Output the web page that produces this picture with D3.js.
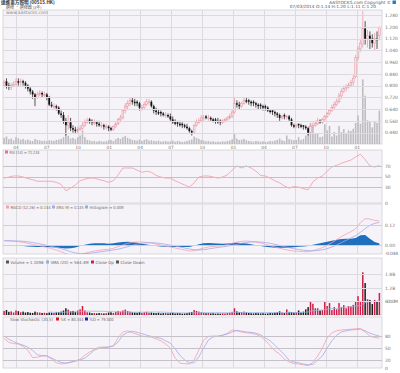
<!DOCTYPE html>
<html lang="zh-Hant">
<head>
<meta charset="UTF-8">
<title>達進東方照明 (00515.HK)</title>
<script src="https://cdn.jsdelivr.net/npm/d3@7"></script>
<style>
    body{ margin:0; background:#fff; }
    text{ font-family:"DejaVu Sans",Verdana,sans-serif; }
    .cjk{ font-family:"Noto Sans CJK TC",sans-serif; }
</style>
</head>
<body>
<svg id="chart" width="400" height="373"></svg>
<script>
// weekly bars, first week ending 25 Feb 2011
var startDate = new Date(2011, 1, 25);

var opens = [
0.80,0.83,0.80,0.79,0.80,0.81,0.83,0.82,0.83,0.82,
0.80,0.78,0.76,0.74,0.72,0.74,0.75,0.74,0.74,0.72,
0.67,0.66,0.66,0.65,0.61,0.60,0.56,0.53,0.55,0.51,
0.50,0.49,0.50,0.51,0.53,0.55,0.57,0.56,0.55,0.55,
0.54,0.53,0.53,0.52,0.52,0.51,0.50,0.52,0.54,0.57,
0.58,0.63,0.66,0.68,0.70,0.69,0.69,0.68,0.65,0.65,
0.67,0.69,0.69,0.66,0.63,0.62,0.62,0.61,0.60,0.60,
0.59,0.57,0.55,0.55,0.54,0.54,0.53,0.52,0.51,0.49,
0.48,0.53,0.55,0.56,0.58,0.59,0.58,0.58,0.57,0.57,
0.56,0.56,0.55,0.56,0.57,0.58,0.59,0.62,0.68,0.67,
0.66,0.68,0.70,0.70,0.69,0.69,0.68,0.67,0.67,0.66,
0.66,0.65,0.63,0.63,0.62,0.61,0.60,0.58,0.60,0.59,
0.59,0.57,0.53,0.52,0.54,0.53,0.53,0.52,0.51,0.48,
0.52,0.53,0.54,0.56,0.55,0.57,0.59,0.61,0.63,0.65,
0.67,0.69,0.73,0.76,0.78,0.79,0.80,0.82,0.86,0.99,
1.05,1.08,1.19,1.12,1.14,1.12,1.09,1.12,1.14
];
var highs = [
0.84,0.85,0.82,0.82,0.83,0.85,0.85,0.85,0.84,0.83,
0.81,0.79,0.77,0.75,0.76,0.77,0.76,0.76,0.75,0.73,
0.69,0.68,0.67,0.66,0.63,0.62,0.58,0.60,0.58,0.53,
0.52,0.52,0.53,0.55,0.57,0.58,0.58,0.57,0.57,0.56,
0.56,0.55,0.54,0.54,0.53,0.52,0.53,0.55,0.58,0.60,
0.64,0.68,0.70,0.72,0.72,0.71,0.70,0.69,0.67,0.69,
0.71,0.71,0.70,0.67,0.65,0.64,0.63,0.62,0.62,0.61,
0.61,0.59,0.57,0.56,0.56,0.55,0.54,0.54,0.52,0.50,
0.54,0.57,0.58,0.60,0.60,0.60,0.60,0.59,0.58,0.58,
0.58,0.57,0.57,0.58,0.59,0.61,0.64,0.72,0.70,0.69,
0.69,0.72,0.72,0.71,0.70,0.70,0.69,0.68,0.68,0.67,
0.67,0.66,0.64,0.64,0.63,0.62,0.61,0.60,0.61,0.60,
0.60,0.58,0.54,0.54,0.54,0.54,0.53,0.53,0.52,0.53,
0.55,0.56,0.58,0.57,0.58,0.60,0.62,0.64,0.67,0.69,
0.71,0.75,0.78,0.80,0.81,0.82,0.84,0.87,1.01,1.07,
1.12,1.31,1.24,1.18,1.17,1.15,1.16,1.17,1.20
];
var lows = [
0.79,0.78,0.77,0.77,0.79,0.80,0.80,0.80,0.80,0.78,
0.76,0.74,0.71,0.66,0.71,0.73,0.72,0.72,0.70,0.66,
0.65,0.64,0.63,0.60,0.58,0.54,0.46,0.50,0.49,0.48,
0.47,0.47,0.49,0.50,0.52,0.54,0.54,0.53,0.53,0.52,
0.52,0.51,0.50,0.50,0.49,0.49,0.49,0.51,0.53,0.55,
0.57,0.61,0.64,0.66,0.67,0.66,0.66,0.63,0.63,0.64,
0.66,0.67,0.65,0.61,0.60,0.60,0.59,0.59,0.58,0.58,
0.56,0.54,0.53,0.52,0.52,0.51,0.51,0.50,0.48,0.46,
0.47,0.52,0.54,0.55,0.56,0.57,0.56,0.56,0.55,0.54,
0.54,0.53,0.54,0.55,0.56,0.57,0.58,0.61,0.65,0.64,
0.65,0.67,0.68,0.67,0.66,0.66,0.65,0.64,0.64,0.63,
0.63,0.62,0.61,0.60,0.59,0.58,0.56,0.57,0.57,0.57,
0.56,0.52,0.51,0.51,0.51,0.51,0.50,0.50,0.46,0.47,
0.51,0.52,0.53,0.54,0.54,0.56,0.58,0.60,0.62,0.64,
0.66,0.68,0.71,0.75,0.76,0.78,0.79,0.80,0.85,0.97,
1.03,1.06,1.08,1.06,1.05,1.06,1.04,1.05,1.11
];
var closes = [
0.82,0.80,0.79,0.80,0.81,0.83,0.82,0.83,0.82,0.80,
0.78,0.76,0.74,0.72,0.74,0.75,0.74,0.74,0.72,0.67,
0.66,0.66,0.65,0.61,0.60,0.56,0.53,0.55,0.51,0.50,
0.49,0.50,0.51,0.53,0.55,0.56,0.56,0.55,0.55,0.54,
0.53,0.53,0.52,0.52,0.51,0.50,0.52,0.54,0.57,0.58,
0.63,0.66,0.68,0.70,0.69,0.68,0.68,0.65,0.65,0.67,
0.69,0.69,0.66,0.63,0.62,0.61,0.61,0.60,0.60,0.59,
0.57,0.55,0.54,0.54,0.53,0.53,0.52,0.51,0.49,0.48,
0.53,0.55,0.56,0.58,0.58,0.58,0.58,0.57,0.56,0.56,
0.55,0.55,0.56,0.57,0.58,0.59,0.62,0.68,0.67,0.66,
0.68,0.70,0.69,0.69,0.68,0.68,0.67,0.66,0.66,0.65,
0.65,0.63,0.62,0.62,0.61,0.60,0.58,0.59,0.59,0.59,
0.57,0.53,0.52,0.53,0.53,0.52,0.52,0.51,0.48,0.52,
0.53,0.54,0.56,0.55,0.57,0.59,0.61,0.63,0.65,0.67,
0.69,0.73,0.76,0.78,0.79,0.80,0.82,0.85,0.99,1.05,
1.09,1.19,1.12,1.14,1.12,1.09,1.12,1.11,1.20
];
// volume in millions of shares
var volumes = [
180,220,140,160,110,200,170,120,150,110,
130,100,90,150,120,110,90,100,80,110,
100,90,120,130,150,200,300,240,160,180,
140,200,250,400,200,120,110,80,90,70,
90,80,70,80,110,120,90,140,180,150,
200,240,180,150,120,110,100,130,90,120,
140,100,110,90,80,100,70,80,90,70,
80,100,70,90,80,60,70,90,110,130,
220,180,150,120,100,80,90,70,80,60,
70,60,80,70,90,100,140,300,160,120,
130,150,110,90,80,70,90,80,70,80,
60,70,90,80,100,120,160,110,90,250,
140,130,110,120,200,120,150,250,350,620,
500,300,300,200,220,580,400,530,220,350,
250,530,350,440,300,400,380,450,620,840,
600,1900,1420,700,670,490,670,620,980
];

// indicators, one reading every second week
var rsi14 = [
47,49,51,51,49,46,44,41,41,41,41,39,35,23,28,34,42,45,47,47,
44,42,39,42,53,66,66,66,62,58,60,58,52,49,47,47,42,38,34,30,
38,49,51,51,49,47,49,53,62,70,66,70,66,60,52,51,47,42,38,32,
28,31,30,27,25,40,47,51,60,68,71,75,78,81,87,92,82,70,68,71
];
var macdLine = [
0.025,0.024,0.022,0.020,0.016,0.010,0.004,-0.002,-0.008,-0.014,
-0.022,-0.030,-0.040,-0.052,-0.060,-0.062,-0.058,-0.050,-0.042,-0.036,
-0.032,-0.028,-0.026,-0.020,-0.010,0.000,0.010,0.016,0.018,0.018,
0.016,0.012,0.006,0.000,-0.006,-0.012,-0.018,-0.024,-0.030,-0.036,
-0.034,-0.026,-0.018,-0.012,-0.008,-0.006,-0.004,0.002,0.010,0.018,
0.022,0.024,0.022,0.018,0.012,0.004,-0.004,-0.012,-0.020,-0.026,
-0.032,-0.036,-0.038,-0.040,-0.040,-0.034,-0.026,-0.016,-0.002,0.014,
0.032,0.050,0.066,0.080,0.098,0.134,0.158,0.156,0.148,0.144
];
var macdSignal = [
0.026,0.026,0.025,0.024,0.022,0.019,0.015,0.010,0.004,-0.002,
-0.008,-0.015,-0.022,-0.031,-0.040,-0.047,-0.052,-0.052,-0.050,-0.046,
-0.042,-0.038,-0.034,-0.030,-0.025,-0.018,-0.010,-0.002,0.005,0.010,
0.013,0.014,0.012,0.009,0.004,-0.001,-0.006,-0.012,-0.018,-0.024,
-0.029,-0.030,-0.028,-0.024,-0.019,-0.015,-0.011,-0.007,-0.002,0.004,
0.010,0.015,0.018,0.019,0.018,0.015,0.010,0.004,-0.003,-0.010,
-0.016,-0.022,-0.027,-0.031,-0.034,-0.035,-0.033,-0.029,-0.022,-0.012,
0.000,0.014,0.028,0.042,0.056,0.076,0.098,0.118,0.130,0.135
];
var macdHist = [
-0.001,-0.002,-0.003,-0.004,-0.006,-0.009,-0.011,-0.012,-0.012,-0.012,
-0.014,-0.015,-0.018,-0.021,-0.020,-0.015,-0.006,0.002,0.008,0.010,
0.010,0.010,0.008,0.010,0.015,0.018,0.020,0.018,0.013,0.008,
0.003,-0.002,-0.006,-0.009,-0.010,-0.011,-0.012,-0.012,-0.012,-0.012,
-0.005,0.004,0.010,0.012,0.011,0.009,0.007,0.009,0.012,0.014,
0.012,0.009,0.004,-0.001,-0.006,-0.011,-0.014,-0.016,-0.017,-0.016,
-0.016,-0.014,-0.011,-0.009,-0.006,0.001,0.007,0.013,0.020,0.026,
0.032,0.036,0.038,0.038,0.042,0.058,0.060,0.038,0.018,0.009
];
var stochK = [
74,64,61,60,54,44,26,27,30,31,22,13,10,12,15,18,22,32,40,47,
52,52,52,56,75,90,93,88,84,80,78,77,73,68,60,50,25,12,11,10,
20,45,70,79,80,80,82,87,95,93,90,88,87,84,79,69,56,43,35,22,
15,11,10,8,6,14,30,50,75,88,93,95,96,97,98,99,90,80,76,75
];
var stochD = [
80,72,66,61,57,52,44,33,31,30,25,19,14,12,14,17,20,25,34,45,
49,51,53,55,65,82,89,92,89,86,82,79,77,74,68,62,48,32,20,13,
13,28,50,70,78,79,82,85,90,94,92,90,89,87,83,75,68,57,45,34,
19,15,13,10,8,9,20,30,50,68,82,90,93,95,96,97,93,87,83,80
];

var priceTicks = [1.28,1.20,1.12,1.04,0.96,0.88,0.80,0.72,0.64,0.56,0.48];
var rsiTicks = [70,50,30];
var macdTicks = [0.12,0];
var volTicks = [1800,1200,600];
var volTickLabels = ['1.8B','1.2B','600.0M'];
var stochTicks = [80,50,20];

var svg = d3.select('#chart');
var L = 3, R = 382;
var weeks = closes.map(function(c,i){ return d3.timeWeek.offset(startDate, i); });
var x = d3.scaleTime().domain([weeks[0], weeks[weeks.length-1]]).range([4.1, 379.4]);
var quarters = x.ticks(d3.timeMonth.every(3));
var gridCol = '#dcdadf';

function panel(id, top, bottom){
    svg.append('rect').attr('x',L).attr('y',top).attr('width',R-L).attr('height',bottom-top)
        .attr('fill','#f5f3f7').attr('stroke','#cfcfd4').attr('stroke-width',0.8);
    svg.append('g').selectAll('line').data(quarters).enter().append('line')
        .attr('x1',function(d){return Math.round(x(d))+0.5;})
        .attr('x2',function(d){return Math.round(x(d))+0.5;})
        .attr('y1',top).attr('y2',bottom)
        .attr('stroke',gridCol).attr('stroke-width',1);
    svg.append('clipPath').attr('id',id).append('rect')
        .attr('x',L).attr('y',top).attr('width',R-L).attr('height',bottom-top);
    return svg.append('g').attr('clip-path','url(#'+id+')');
}

function hGrid(scale, ticks, labels, col){
    svg.append('g').selectAll('line').data(ticks).enter().append('line')
        .attr('x1',L).attr('x2',R)
        .attr('y1',function(d){return Math.round(scale(d))+0.5;})
        .attr('y2',function(d){return Math.round(scale(d))+0.5;})
        .attr('stroke',col || gridCol).attr('stroke-width',1);
    axisLabels(scale, ticks, labels);
}

function axisLabels(scale, ticks, labels){
    svg.append('g').selectAll('text').data(ticks).enter().append('text')
        .attr('x',R+3).attr('y',function(d){return scale(d)+1.7;})
        .attr('font-size',4.5).attr('fill','#777')
        .attr('textLength',function(d,i){
            var s = String(labels ? labels[i] : d);
            return s.length > 5 ? 13 : null;
        })
        .text(function(d,i){ return labels ? labels[i] : d; });
}

// w = room for the text before the next legend item
function legend(items, y){
    items.forEach(function(it){
        if(it.color){
            svg.append('rect').attr('x',it.x).attr('y',y-3).attr('width',3).attr('height',3).attr('fill',it.color);
        }
        var t = svg.append('text').attr('x',it.x+(it.color?4.5:0)).attr('y',y).attr('font-size',4.2)
            .attr('fill','#666').text(it.text);
        if(it.w && t.node().getComputedTextLength() > it.w){
            t.attr('textLength',it.w).attr('lengthAdjust','spacingAndGlyphs');
        }
    });
}

function seriesLine(g, scale, vals, color){
    var line = d3.line()
        .x(function(d,k){return x(weeks[k*2]);})
        .y(function(d){return scale(d);});
    g.append('path').datum(vals).attr('d',line).attr('fill','none')
        .attr('stroke',color).attr('stroke-width',0.8);
}

// ---------------- header ----------------
svg.append('text').attr('class','cjk').attr('x',1).attr('y',3.9).attr('font-size',4.6).attr('font-weight','bold')
    .attr('fill','#333').text('達進東方照明 (00515.HK)');
svg.append('text').attr('class','cjk').attr('x',6).attr('y',8.7).attr('font-size',4)
    .attr('fill','#555').text('週線 · 週線圖 (3年)');
svg.append('text').attr('x',391).attr('y',3.6).attr('text-anchor','end').attr('font-size',4.3)
    .attr('fill','#555').text('AASTOCKS.com Copyright ©');
svg.append('rect').attr('x',392.5).attr('y',0.5).attr('width',3.5).attr('height',3.5).attr('fill','#3a78b8');
svg.append('text').attr('x',376).attr('y',8.2).attr('text-anchor','end').attr('font-size',4.3)
    .attr('fill','#555').text('07/03/2014   O:1.14  H:1.20  L:1.11  C:1.20');

// ---------------- main price panel ----------------
var yP = d3.scaleLinear().domain([0.402, 1.316]).range([144, 10]);
var yV = d3.scaleLinear().domain([0, 1000]).range([0, 34]);
var gMain = panel('cMain', 10, 144);
hGrid(yP, priceTicks, priceTicks.map(d3.format('.3f')));
svg.append('text').attr('x',6).attr('y',14.2).attr('font-size',4.4).attr('fill','#888').text('www.aastocks.com');

gMain.selectAll('rect.vo').data(volumes).enter().append('rect')
    .attr('x',function(d,i){return x(weeks[i])-0.8;}).attr('width',1.6)
    .attr('y',function(d){return 144-yV(d);}).attr('height',function(d){return yV(d);})
    .attr('fill','#bdbcc0');

var upCol = '#e8919f';
gMain.selectAll('line.wick').data(closes).enter().append('line')
    .attr('x1',function(d,i){return x(weeks[i]);}).attr('x2',function(d,i){return x(weeks[i]);})
    .attr('y1',function(d,i){return yP(highs[i]);}).attr('y2',function(d,i){return yP(lows[i]);})
    .attr('stroke',function(d,i){return d>=opens[i]?upCol:'#111';}).attr('stroke-width',0.7);
gMain.selectAll('rect.body').data(closes).enter().append('rect')
    .attr('x',function(d,i){return x(weeks[i])-0.9;}).attr('width',1.8)
    .attr('y',function(d,i){return yP(Math.max(d,opens[i]));})
    .attr('height',function(d,i){return Math.max(0.8, Math.abs(yP(d)-yP(opens[i])));})
    .attr('fill',function(d,i){return d>=opens[i]?'#f8e4e8':'#111';})
    .attr('stroke',function(d,i){return d>=opens[i]?upCol:'none';}).attr('stroke-width',0.5);

svg.append('g').selectAll('text').data(quarters).enter().append('text')
    .attr('x',function(d){return x(d);}).attr('y',148.6).attr('text-anchor','middle')
    .attr('font-size',4.4).attr('fill','#777').text(d3.timeFormat('%m'));

// ---------------- RSI ----------------
var yR = d3.scaleLinear().domain([0,100]).range([203,150]);
var gRsi = panel('cRsi', 150, 203);
hGrid(yR, rsiTicks, null, '#c4c2c8');
axisLabels(yR, [0], null);
seriesLine(gRsi, yR, rsi14, '#f09aa4');
legend([{x:5, color:'#f07080', text:'RSI (14) = 71.234', w:30}], 153.5);

// ---------------- MACD ----------------
var yM = d3.scaleLinear().domain([-0.054, 0.246]).range([254, 204]);
var gMacd = panel('cMacd', 204, 254);
hGrid(yM, macdTicks, ['0.12','0.00'], '#d2d0d6');
axisLabels(yM, [-0.048], ['-0.048']);
var histArea = d3.area()
    .x(function(d,k){return x(weeks[k*2]);})
    .y0(yM(0)).y1(function(d){return yM(d);});
gMacd.append('path').datum(macdHist).attr('d',histArea).attr('fill','#1f6fbf');
seriesLine(gMacd, yM, macdLine, '#f4a2b2');
seriesLine(gMacd, yM, macdSignal, '#a6a6ea');
legend([
    {x:6, color:'#f4a2b2', text:'MACD (12,26) = 0.144', w:40},
    {x:52, color:'#a6a6ea', text:'EMA (9) = 0.135', w:27},
    {x:85, color:'#8fb0d8', text:'Histogram = 0.009', w:34}
], 208.5);

// ---------------- Volume ----------------
var yVol = d3.scaleLinear().domain([0, 2533]).range([315, 258]);
var gVol = panel('cVol', 258, 315);
hGrid(yVol, volTicks, volTickLabels);
gVol.selectAll('rect').data(volumes).enter().append('rect')
    .attr('x',function(d,i){return x(weeks[i])-0.75;}).attr('width',1.5)
    .attr('y',function(d){return yVol(d);}).attr('height',function(d){return 315-yVol(d);})
    .attr('fill',function(d,i){return closes[i]>=opens[i]?'#cf1d45':'#1b1b1b';});
var sma = volumes.map(function(v,i){ return i<19 ? null : d3.mean(volumes.slice(i-19,i+1)); });
gVol.append('path').datum(sma)
    .attr('d', d3.line().defined(function(d){return d!==null;})
        .x(function(d,i){return x(weeks[i]);}).y(function(d){return yVol(d);}))
    .attr('fill','none').attr('stroke','#9db6e2').attr('stroke-width',0.8);
legend([
    {x:6, color:'#555', text:'Volume = 1.109B', w:33},
    {x:46, color:'#8fb0e0', text:'SMA (20) = 564.4M', w:38},
    {x:91, color:'#cf1d45', text:'Close Up', w:19},
    {x:116, color:'#555', text:'Close Down', w:24}
], 263.5);

// ---------------- Slow stochastic ----------------
var yS = d3.scaleLinear().domain([0,100]).range([368,328]);
var gSto = panel('cSto', 317, 368);
hGrid(yS, stochTicks, null, '#c4c2c8');
axisLabels(yS, [0], null);
seriesLine(gSto, yS, stochK, '#f4a0aa');
seriesLine(gSto, yS, stochD, '#a6a8ec');
legend([
    {x:10, color:null, text:'Slow Stochastic (20,5)', w:43},
    {x:56, color:'#e01020', text:'%K = 80.344', w:23},
    {x:85, color:'#1020d0', text:'%D = 79.000', w:24}
], 320.5);
</script>
</body>
</html>
